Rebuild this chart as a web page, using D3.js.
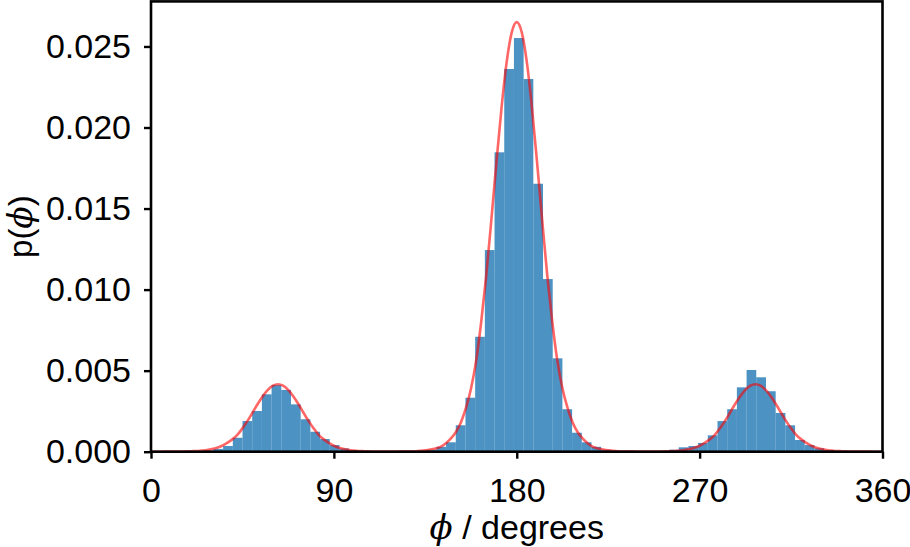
<!DOCTYPE html>
<html>
<head>
<meta charset="utf-8">
<script src="https://cdn.jsdelivr.net/npm/d3@7"></script>
<style>
  body { margin: 0; background: #fff; }
  text { font-family: "Liberation Sans", Arial, sans-serif; fill: #000; }
</style>
</head>
<body>
<svg id="chart" width="910" height="547"></svg>
<script>
// histogram: 75 bins spanning the data range (degrees)
let binStart = 2.1, binEnd = 359.9, binCount = 75;
let density = [
  0, 0, 0, 0.00001, 0.00003, 0.00008, 0.00017, 0.00035, 0.00086, 0.00189,
  0.00251, 0.00354, 0.00411, 0.00381, 0.00292, 0.00200, 0.00123, 0.00078, 0.00041, 0.00020,
  0.00010, 0.00005, 0.00002, 0.00001, 0.00001, 0.00001, 0.00003, 0.00006, 0.00012, 0.00030,
  0.00058, 0.00163, 0.00333, 0.00709, 0.01244, 0.01847, 0.02361, 0.02552, 0.02299, 0.01653,
  0.01065, 0.00576, 0.00262, 0.00117, 0.00058, 0.00030, 0.00012, 0.00006, 0.00003, 0.00001,
  0.00001, 0.00002, 0.00005, 0.00012, 0.00027, 0.00035, 0.00054, 0.00101, 0.00189, 0.00262,
  0.00397, 0.00504, 0.00459, 0.00373, 0.00239, 0.00163, 0.00072, 0.00041, 0.00021, 0.00010,
  0.00004, 0.00002, 0.00001, 0, 0
];

// fitted curve, sampled every 2.5 degrees from 0 to 360
let curveStep = 2.5;
let curveValues = [
  0, 0, 0, 0.00001, 0.00001, 0.00001, 0.00001, 0.00002, 0.00003, 0.00004,
  0.00007, 0.00010, 0.00016, 0.00025, 0.00037, 0.00054, 0.00076, 0.00104, 0.00144, 0.00190,
  0.00242, 0.00294, 0.00342, 0.00381, 0.00407, 0.00416, 0.00407, 0.00381, 0.00342, 0.00294,
  0.00242, 0.00190, 0.00144, 0.00104, 0.00076, 0.00054, 0.00037, 0.00025, 0.00016, 0.00010,
  0.00007, 0.00004, 0.00003, 0.00002, 0.00001, 0.00001, 0.00001, 0.00001, 0.00001, 0.00002,
  0.00002, 0.00002, 0.00003, 0.00005, 0.00008, 0.00013, 0.0002, 0.0003, 0.0005, 0.0008,
  0.0012, 0.0018, 0.0027, 0.0039, 0.0056, 0.0080, 0.0109, 0.0143, 0.01785, 0.0212,
  0.0240, 0.02585, 0.0265, 0.02585, 0.0240, 0.0212, 0.01785, 0.0143, 0.0109, 0.0080,
  0.0056, 0.0039, 0.0027, 0.0018, 0.0012, 0.0008, 0.0005, 0.0003, 0.0002, 0.00013,
  0.00008, 0.00005, 0.00003, 0.00002, 0.00002, 0.00002, 0.00001, 0.00001, 0.00001, 0.00001,
  0.00001, 0.00002, 0.00003, 0.00004, 0.00007, 0.00010, 0.00016, 0.00025, 0.00037, 0.00054,
  0.00076, 0.00104, 0.00144, 0.00190, 0.00242, 0.00294, 0.00342, 0.00381, 0.00407, 0.00416,
  0.00407, 0.00381, 0.00342, 0.00294, 0.00242, 0.00190, 0.00144, 0.00104, 0.00076, 0.00054,
  0.00037, 0.00025, 0.00016, 0.00010, 0.00007, 0.00004, 0.00003, 0.00002, 0.00001, 0.00001,
  0.00001, 0.00001, 0, 0, 0
];

let xTicks = [0, 90, 180, 270, 360];
let yTicks = [0, 0.005, 0.010, 0.015, 0.020, 0.025];

let plotLeft = 151, plotRight = 882.5, plotTop = 1.4, plotBottom = 451.7;
let fontSize = 34;

let svg = d3.select('#chart');

let x = d3.scaleLinear().domain([0, 360]).range([plotLeft, plotRight]);
let y = d3.scaleLinear().domain([0, 0.02778]).range([plotBottom, plotTop]);

let binWidth = (binEnd - binStart) / binCount;
let bins = density.map(function (v, i) {
  return { x0: binStart + i * binWidth, x1: binStart + (i + 1) * binWidth, v: v };
});

svg.append('g')
  .selectAll('rect')
  .data(bins.filter(d => d.v > 0))
  .enter()
  .append('rect')
  .attr('x', d => x(d.x0))
  .attr('width', d => x(d.x1) - x(d.x0))
  .attr('y', d => y(d.v))
  .attr('height', d => y(0) - y(d.v))
  .attr('fill', '#1f77b4')
  .attr('fill-opacity', 0.8);

let line = d3.line()
  .x((d, i) => x(i * curveStep))
  .y(d => y(d))
  .curve(d3.curveMonotoneX);

svg.append('path')
  .datum(curveValues)
  .attr('d', line)
  .attr('fill', 'none')
  .attr('stroke', 'red')
  .attr('stroke-opacity', 0.6)
  .attr('stroke-width', 2.6)
  .attr('stroke-linejoin', 'round');

// axes
let xAxis = d3.axisBottom(x).tickValues(xTicks).tickFormat(d3.format('d'))
  .tickSizeInner(7).tickSizeOuter(0).tickPadding(19);
let yAxis = d3.axisLeft(y).tickValues(yTicks).tickFormat(d3.format('.3f'))
  .tickSizeInner(7).tickSizeOuter(0).tickPadding(13);

let gx = svg.append('g').attr('transform', 'translate(0,' + plotBottom + ')').call(xAxis);
let gy = svg.append('g').attr('transform', 'translate(' + plotLeft + ',0)').call(yAxis);

[gx, gy].forEach(function (g) {
  g.select('.domain').remove();
  g.selectAll('.tick line').attr('stroke', '#000').attr('stroke-width', 2.4);
  g.selectAll('.tick text')
    .attr('font-size', fontSize)
    .style('font-family', '"Liberation Sans", Arial, sans-serif')
    .attr('fill', '#000');
});

// frame
svg.append('rect')
  .attr('x', plotLeft).attr('y', plotTop)
  .attr('width', plotRight - plotLeft).attr('height', plotBottom - plotTop)
  .attr('fill', 'none')
  .attr('stroke', '#000')
  .attr('stroke-width', 2.6);

// labels
let xl = svg.append('text')
  .attr('x', (plotLeft + plotRight) / 2)
  .attr('y', 539)
  .attr('text-anchor', 'middle')
  .attr('font-size', fontSize);
xl.append('tspan').attr('font-style', 'italic').style('font-family', '"DejaVu Serif", serif').text('ϕ');
xl.append('tspan').text(' / degrees');

let yl = svg.append('text')
  .attr('transform', 'translate(32,' + ((plotTop + plotBottom) / 2) + ') rotate(-90)')
  .attr('text-anchor', 'middle')
  .attr('font-size', 33);
yl.append('tspan').text('p(');
yl.append('tspan').attr('font-style', 'italic').style('font-family', '"DejaVu Serif", serif').text('ϕ');
yl.append('tspan').text(')');
</script>
</body>
</html>
